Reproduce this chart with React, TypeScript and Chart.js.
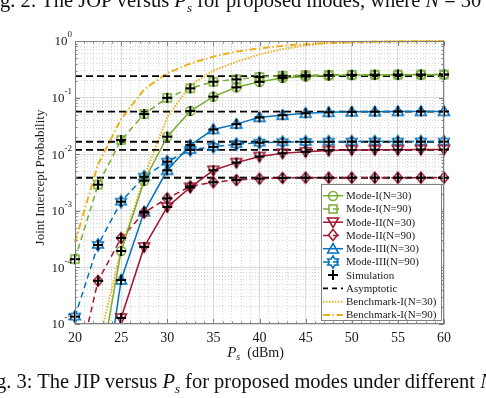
import React, { useEffect, useRef } from 'react';
import { Chart, registerables } from 'chart.js';

Chart.register(...registerables);

// ---------------- data ----------------
const powerDbm = [20, 22.5, 25, 27.5, 30, 32.5, 35, 37.5, 40, 42.5, 45, 47.5, 50, 52.5, 55, 57.5, 60];

const modeI_N30 = [1e-9, 1e-6, 1.95e-4, 3.4e-3, 0.0204, 0.058, 0.104, 0.152, 0.19, 0.222, 0.236, 0.245, 0.25, 0.252, 0.253, 0.254, 0.255];
const modeI_N90 = [1.4e-4, 2.9e-3, 0.0178, 0.0513, 0.099, 0.146, 0.191, 0.21, 0.232, 0.243, 0.249, 0.252, 0.253, 0.254, 0.255, 0.255, 0.256];
const modeII_N30 = [1e-9, 1e-7, 1.28e-5, 2.3e-4, 1.17e-3, 2.6e-3, 5.2e-3, 7.1e-3, 9.1e-3, 0.0104, 0.011, 0.0116, 0.0119, 0.012, 0.012, 0.0121, 0.0121];
const modeII_N90 = [1e-6, 5.8e-5, 3.3e-4, 9.3e-4, 1.66e-3, 2.7e-3, 3.2e-3, 3.5e-3, 3.7e-3, 3.8e-3, 3.85e-3, 3.85e-3, 3.85e-3, 3.85e-3, 3.85e-3, 3.85e-3, 3.85e-3];
const modeIII_N30 = [1e-9, 1e-7, 6e-5, 9.6e-4, 5.2e-3, 0.0145, 0.0274, 0.034, 0.0448, 0.049, 0.053, 0.055, 0.056, 0.0565, 0.057, 0.057, 0.057];
const modeIII_N90 = [1.35e-5, 2.5e-4, 1.45e-3, 4e-3, 7.4e-3, 0.0119, 0.0135, 0.015, 0.016, 0.0163, 0.0165, 0.0166, 0.0167, 0.0167, 0.0167, 0.0167, 0.0167];

const simModeI_N30 = modeI_N30;
const simModeI_N90 = modeI_N90;
const simModeII_N30 = modeII_N30;
const simModeII_N90 = modeII_N90;
const simModeIII_N30 = modeIII_N30;
const simModeIII_N90 = modeIII_N90;

const asymptoteLevels = [0.24, 0.0563, 0.0166, 0.0119, 0.00384];
const asymptoteRange = [20, 60];

const benchmarkI_N30 = [1e-8, 4e-6, 2.1e-4, 4e-3, 0.045, 0.165, 0.3, 0.43, 0.58, 0.72, 0.84, 0.92, 0.96, 0.98, 0.99, 0.995, 1.0];
const benchmarkI_N90 = [2.8e-4, 6.6e-3, 0.042, 0.14, 0.27, 0.4, 0.53, 0.65, 0.74, 0.82, 0.88, 0.92, 0.95, 0.97, 0.98, 0.99, 0.995];

const xTickLabels = ['20', '25', '30', '35', '40', '45', '50', '55', '60'];
const yTickExponents = [0, -1, -2, -3, -4, -5];

// ---------------- styles ----------------
const SERIF = '"Liberation Serif", "Times New Roman", serif';
const GREEN = '#77AC30';
const RED = '#A2142F';
const BLUE = '#0072BD';
const ORANGE = '#EDB120';
const TEXT = '#1a1a1a';
const AXIS = '#808080';

type Marker = 'circle' | 'square' | 'tri-down' | 'diamond' | 'tri-up' | 'hexagram' | 'plus' | null;

const markerCache: Record<string, HTMLCanvasElement> = {};

function makeMarker(shape: Marker, color: string): HTMLCanvasElement {
  const s = 16;
  const c = document.createElement('canvas');
  c.width = s;
  c.height = s;
  const ctx = c.getContext('2d')!;
  const m = s / 2;
  ctx.strokeStyle = color;
  ctx.lineWidth = 1.5;
  ctx.lineJoin = 'miter';
  ctx.beginPath();
  switch (shape) {
    case 'circle':
      ctx.arc(m, m, 4.5, 0, Math.PI * 2);
      break;
    case 'square':
      ctx.rect(m - 4, m - 4, 8, 8);
      break;
    case 'tri-down':
      ctx.moveTo(m - 5.5, m - 4);
      ctx.lineTo(m + 5.5, m - 4);
      ctx.lineTo(m, m + 5.5);
      ctx.closePath();
      break;
    case 'tri-up':
      ctx.moveTo(m - 5.5, m + 4);
      ctx.lineTo(m + 5.5, m + 4);
      ctx.lineTo(m, m - 5.5);
      ctx.closePath();
      break;
    case 'diamond':
      ctx.moveTo(m, m - 5.5);
      ctx.lineTo(m + 4.5, m);
      ctx.lineTo(m, m + 5.5);
      ctx.lineTo(m - 4.5, m);
      ctx.closePath();
      break;
    case 'hexagram':
      for (let k = 0; k < 12; k++) {
        const r = k % 2 === 0 ? 6.2 : 3.6;
        const a = -Math.PI / 2 + (k * Math.PI) / 6;
        const px = m + r * Math.cos(a);
        const py = m + r * Math.sin(a);
        if (k === 0) ctx.moveTo(px, py);
        else ctx.lineTo(px, py);
      }
      ctx.closePath();
      break;
    case 'plus':
      ctx.lineWidth = 2;
      ctx.moveTo(m - 5, m);
      ctx.lineTo(m + 5, m);
      ctx.moveTo(m, m - 5);
      ctx.lineTo(m, m + 5);
      break;
  }
  ctx.stroke();
  return c;
}

function getMarker(shape: Marker, color: string): HTMLCanvasElement {
  const key = shape + '|' + color;
  if (!markerCache[key]) markerCache[key] = makeMarker(shape, color);
  return markerCache[key];
}

interface SeriesDef {
  label: string;
  values: number[];
  color: string;
  dash: number[];
  marker: Marker;
  width: number;
}

const modeSeries: SeriesDef[] = [
  { label: 'Mode-I(N=30)', values: modeI_N30, color: GREEN, dash: [], marker: 'circle', width: 1.5 },
  { label: 'Mode-I(N=90)', values: modeI_N90, color: GREEN, dash: [6, 4], marker: 'square', width: 1.5 },
  { label: 'Mode-II(N=30)', values: modeII_N30, color: RED, dash: [], marker: 'tri-down', width: 1.5 },
  { label: 'Mode-II(N=90)', values: modeII_N90, color: RED, dash: [6, 4], marker: 'diamond', width: 1.5 },
  { label: 'Mode-III(N=30)', values: modeIII_N30, color: BLUE, dash: [], marker: 'tri-up', width: 1.5 },
  { label: 'Mode-III(N=90)', values: modeIII_N90, color: BLUE, dash: [6, 4], marker: 'hexagram', width: 1.5 },
];
const simSeries = [simModeI_N30, simModeI_N90, simModeII_N30, simModeII_N90, simModeIII_N30, simModeIII_N90];
const benchSeries: SeriesDef[] = [
  { label: 'Benchmark-I(N=30)', values: benchmarkI_N30, color: ORANGE, dash: [1.5, 1.5], marker: null, width: 2 },
  { label: 'Benchmark-I(N=90)', values: benchmarkI_N90, color: ORANGE, dash: [7, 2.5, 1.5, 2.5], marker: null, width: 2 },
];

const legendEntries = [
  ...modeSeries.map((s) => ({ label: s.label, color: s.color, dash: s.dash, marker: s.marker, line: true, width: s.width })),
  { label: 'Simulation', color: '#000', dash: [] as number[], marker: 'plus' as Marker, line: false, width: 1.5 },
  { label: 'Asymptotic', color: '#000', dash: [5, 4], marker: null as Marker, line: true, width: 1.8 },
  ...benchSeries.map((s) => ({ label: s.label, color: s.color, dash: s.dash, marker: s.marker, line: true, width: s.width })),
];

const isDecade = (v: number) => Math.abs(Math.log10(v) - Math.round(Math.log10(v))) < 1e-9;

const decorPlugin = {
  id: 'jipDecor',
  afterDraw(chart: any) {
    const ctx: CanvasRenderingContext2D = chart.ctx;
    const { left, right, top, bottom } = chart.chartArea;
    const xs = chart.scales.x;
    const ys = chart.scales.y;
    ctx.save();

    // box
    ctx.strokeStyle = AXIS;
    ctx.lineWidth = 1;
    ctx.strokeRect(Math.round(left) + 0.5, Math.round(top) + 0.5, Math.round(right - left) - 1, Math.round(bottom - top) - 1);

    // inward ticks
    ctx.beginPath();
    for (let v = 20; v <= 60; v += 1) {
      const px = Math.round(xs.getPixelForValue(v)) + 0.5;
      const len = v % 5 === 0 ? 5 : 2.5;
      ctx.moveTo(px, bottom);
      ctx.lineTo(px, bottom - len);
      ctx.moveTo(px, top);
      ctx.lineTo(px, top + len);
    }
    for (let e = -5; e <= 0; e++) {
      for (let mm = 1; mm <= (e === 0 ? 1 : 9); mm++) {
        const v = mm * Math.pow(10, e);
        const py = Math.round(ys.getPixelForValue(v)) + 0.5;
        const len = mm === 1 ? 5 : 2.5;
        ctx.moveTo(left, py);
        ctx.lineTo(left + len, py);
        ctx.moveTo(right, py);
        ctx.lineTo(right - len, py);
      }
    }
    ctx.stroke();

    // y tick labels 10^k
    ctx.fillStyle = TEXT;
    ctx.textBaseline = 'middle';
    ctx.textAlign = 'left';
    for (const e of yTickExponents) {
      const py = ys.getPixelForValue(Math.pow(10, e));
      const sup = e < 0 ? '-' + String(-e) : String(e);
      ctx.font = `9px ${SERIF}`;
      const w2 = ctx.measureText(sup).width;
      ctx.font = `13px ${SERIF}`;
      const w1 = ctx.measureText('10').width;
      const xr = left - 3;
      ctx.fillText('10', xr - w2 - w1, py + 1);
      ctx.font = `9px ${SERIF}`;
      ctx.fillText(sup, xr - w2, py - 6);
    }

    // x title: P_s (dBm)
    ctx.textBaseline = 'alphabetic';
    const cx = (left + right) / 2 - 4;
    ctx.font = `italic 15px ${SERIF}`;
    const wP = ctx.measureText('P').width;
    ctx.font = `italic 10px ${SERIF}`;
    const wS = ctx.measureText('s').width;
    ctx.font = `14px ${SERIF}`;
    const wU = ctx.measureText('  (dBm)').width;
    let tx = cx - (wP + wS + wU) / 2;
    const ty = 357;
    ctx.font = `italic 15px ${SERIF}`;
    ctx.fillText('P', tx, ty);
    tx += wP;
    ctx.font = `italic 10px ${SERIF}`;
    ctx.fillText('s', tx, ty + 3);
    tx += wS;
    ctx.font = `14px ${SERIF}`;
    ctx.fillText('  (dBm)', tx, ty);

    // y title
    ctx.save();
    ctx.translate(41, (top + bottom) / 2 - 5);
    ctx.rotate(-Math.PI / 2);
    ctx.font = `13px ${SERIF}`;
    ctx.textAlign = 'center';
    ctx.textBaseline = 'middle';
    ctx.fillText('Joint Intercept Probability', 0, 0);
    ctx.restore();

    // legend
    const lx0 = 321, ly0 = 184, lx1 = 442, ly1 = 321;
    ctx.fillStyle = '#fff';
    ctx.fillRect(lx0, ly0, lx1 - lx0, ly1 - ly0);
    ctx.strokeStyle = AXIS;
    ctx.lineWidth = 1;
    ctx.strokeRect(lx0 + 0.5, ly0 + 0.5, lx1 - lx0 - 1, ly1 - ly0 - 1);
    const rowH = 13.25;
    legendEntries.forEach((en, i) => {
      const cy = ly0 + 11.7 + i * rowH;
      if (en.line) {
        ctx.save();
        ctx.strokeStyle = en.color;
        ctx.lineWidth = en.width;
        ctx.setLineDash(en.dash);
        ctx.beginPath();
        ctx.moveTo(323, cy);
        ctx.lineTo(343, cy);
        ctx.stroke();
        ctx.restore();
      }
      if (en.marker) {
        const img = getMarker(en.marker, en.color);
        ctx.drawImage(img, Math.round(333 - img.width / 2), Math.round(cy - img.height / 2));
      }
      ctx.fillStyle = TEXT;
      ctx.font = `11px ${SERIF}`;
      ctx.textAlign = 'left';
      ctx.textBaseline = 'middle';
      ctx.fillText(en.label, 346, cy + 0.5);
    });

    ctx.restore();
  },
};

export default function App() {
  const ref = useRef<HTMLCanvasElement>(null);

  useEffect(() => {
    const canvas = ref.current!;

    const toPoints = (vals: number[]) => powerDbm.map((x, i) => ({ x, y: vals[i] }));
    const markerClip = { left: 8, top: 8, right: 8, bottom: 0 };

    const datasets: any[] = [];
    simSeries.forEach((vals) => {
      datasets.push({
        label: 'Simulation',
        data: toPoints(vals),
        showLine: false,
        pointStyle: getMarker('plus', '#000'),
        pointRadius: 5,
        borderColor: '#000',
        clip: markerClip,
      });
    });
    modeSeries.forEach((s) => {
      datasets.push({
        label: s.label,
        data: toPoints(s.values),
        borderColor: s.color,
        backgroundColor: s.color,
        borderWidth: s.width,
        borderDash: s.dash,
        pointStyle: getMarker(s.marker, s.color),
        pointRadius: 5,
        tension: 0,
        clip: markerClip,
      });
    });
    asymptoteLevels.forEach((lv) => {
      datasets.push({
        label: 'Asymptotic',
        data: asymptoteRange.map((x) => ({ x, y: lv })),
        borderColor: '#000',
        borderWidth: 1.8,
        borderDash: [7, 4],
        pointRadius: 0,
      });
    });
    benchSeries.forEach((s) => {
      datasets.push({
        label: s.label,
        data: toPoints(s.values),
        borderColor: s.color,
        borderWidth: s.width,
        borderDash: s.dash,
        pointRadius: 0,
        tension: 0,
        clip: { left: 2, top: 2, right: 2, bottom: 0 },
      });
    });

    const xMinor: number[] = [];
    for (let v = 20; v <= 60; v += 1) xMinor.push(v);
    const yMinor: number[] = [];
    for (let e = -5; e < 0; e++) for (let mm = 1; mm <= 9; mm++) yMinor.push(mm * Math.pow(10, e));
    yMinor.push(1);

    const chart: any = new Chart(canvas, {
      type: 'line',
      data: { datasets },
      options: {
        responsive: false,
        animation: false,
        devicePixelRatio: 1,
        layout: { padding: { top: 41, right: 42, left: 0, bottom: 0 } },
        plugins: { legend: { display: false }, tooltip: { enabled: false } },
        scales: {
          x: {
            type: 'linear',
            min: 20,
            max: 60,
            afterBuildTicks: (s: any) => {
              s.ticks = xMinor.map((v) => ({ value: v }));
            },
            afterFit: (s: any) => {
              s.height = 74;
            },
            ticks: {
              autoSkip: false,
              maxRotation: 0,
              padding: 6,
              color: TEXT,
              font: { family: SERIF, size: 14 },
              callback: (v: any) => (xTickLabels.includes(String(v)) ? String(v) : ''),
            },
            grid: {
              drawTicks: false,
              color: (c: any) => (c.tick && c.tick.value % 5 === 0 ? '#dcdcdc' : 'rgba(0,0,0,0.16)'),
              lineWidth: 1,
            },
            border: {
              display: false,
              dash: (c: any) => (c.tick && c.tick.value % 5 !== 0 ? [1, 2] : []),
            },
          },
          y: {
            type: 'logarithmic',
            min: 1e-5,
            max: 1,
            afterBuildTicks: (s: any) => {
              s.ticks = yMinor.map((v) => ({ value: v }));
            },
            afterFit: (s: any) => {
              s.width = 75;
            },
            ticks: { display: false, autoSkip: false },
            grid: {
              drawTicks: false,
              color: (c: any) => (c.tick && isDecade(c.tick.value) ? '#dcdcdc' : 'rgba(0,0,0,0.16)'),
              lineWidth: 1,
            },
            border: {
              display: false,
              dash: (c: any) => (c.tick && !isDecade(c.tick.value) ? [1, 2] : []),
            },
          },
        },
      },
      plugins: [decorPlugin],
    } as any);

    return () => chart.destroy();
  }, []);

  const capStyle: React.CSSProperties = {
    position: 'absolute',
    whiteSpace: 'nowrap',
    fontFamily: SERIF,
    fontSize: 20.5,
    lineHeight: '20.5px',
    color: '#111',
  };

  return (
    <div style={{ position: 'absolute', left: 0, top: 0, width: 486, height: 398, overflow: 'hidden', background: '#fff' }}>
      <canvas ref={ref} width={486} height={398} style={{ position: 'absolute', left: 0, top: 0, width: 486, height: 398 }} />
      <div style={{ ...capStyle, left: -17, top: -10 }}>
        Fig. 2: The JOP versus <i>P</i>
        <sub style={{ fontSize: 13, fontStyle: 'italic' }}>s</sub> for proposed modes, where <i>N</i> = 30
      </div>
      <div style={{ ...capStyle, left: -21, top: 371 }}>
        Fig. 3: The JIP versus <i>P</i>
        <sub style={{ fontSize: 13, fontStyle: 'italic' }}>s</sub> for proposed modes under different <i>N</i>
      </div>
    </div>
  );
}
